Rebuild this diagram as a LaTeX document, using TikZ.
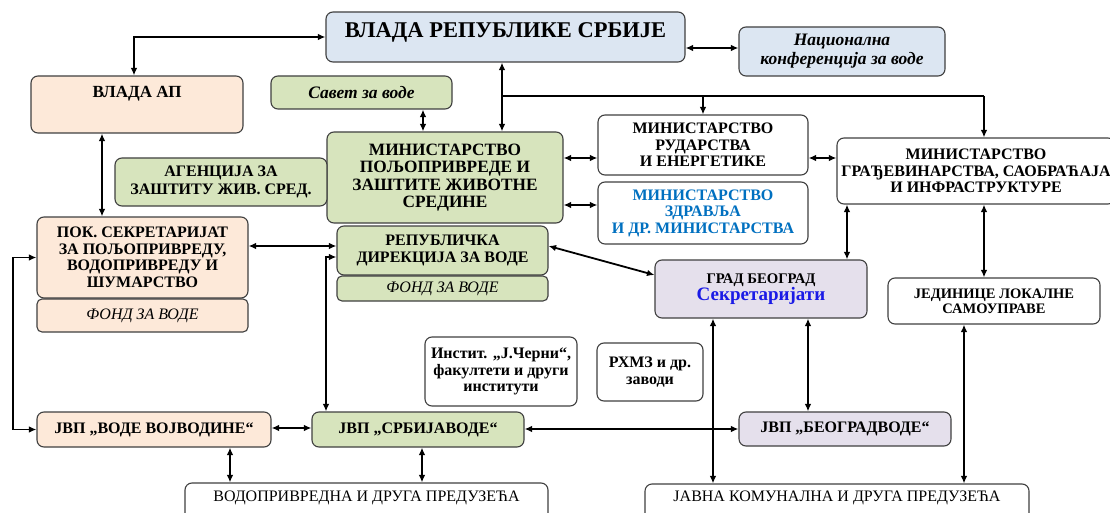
\documentclass[tikz,border=0pt]{standalone}
\usepackage{fontspec}
\setmainfont{Liberation Serif}
\usetikzlibrary{arrows.meta}
\definecolor{blu}{HTML}{DCE6F2}
\definecolor{pch}{HTML}{FDE9D9}
\definecolor{grn}{HTML}{D7E4BD}
\definecolor{lav}{HTML}{E5E0EC}
\definecolor{bord}{HTML}{404040}
\definecolor{tblue}{HTML}{0070C0}
\definecolor{sblue}{HTML}{1A1AE6}
\begin{document}
\begin{tikzpicture}[x=1pt,y=-1pt,
  box/.style={draw=bord, line width=1.1pt, rounded corners=7pt, inner sep=0pt, align=center},
  txt/.style={inner sep=0pt, align=center},
  dbl/.style={line width=1.8pt, {Latex[length=7.5pt,width=6.5pt]}-{Latex[length=7.5pt,width=6.5pt]}},
  one/.style={line width=1.8pt, -{Latex[length=7.5pt,width=6.5pt]}},
  plain/.style={line width=1.8pt},
  fb/.style={font=\fontsize{16}{16.5}\selectfont\bfseries},
  fi/.style={font=\fontsize{16}{16.5}\selectfont\itshape},
  fbi/.style={font=\fontsize{17.5}{19}\selectfont\bfseries\itshape},
  fr/.style={font=\fontsize{16}{16.5}\selectfont},
]
\useasboundingbox (0,0) rectangle (1110,513);
\fill[white] (0,0) rectangle (1110,513);

% helper coordinates
\foreach \xx in {13,102,230,326,422,423,502,713,808,847,964,984}{\coordinate (c\xx) at (\xx,0);}
\foreach \yy in {48,96,158,205,246,257,275,428,429}{\coordinate (r\yy) at (0,\yy);}

% boxes
\node[box, fill=blu, minimum width=359pt, minimum height=50pt] (vrs) at (505.5,37) {};
\node[txt, font=\fontsize{22.5}{23}\selectfont\bfseries] (vrs-t) at (505.5,32) {ВЛАДА РЕПУБЛИКЕ СРБИЈЕ};
\node[box, fill=blu, fbi, minimum width=206pt, minimum height=49pt] (nk) at (842,51.5) {Национална\\конференција за воде};
\node[box, fill=pch, minimum width=212pt, minimum height=57pt] (vap) at (137,104.5) {};
\node[txt, font=\fontsize{17}{17}\selectfont\bfseries] (vap-t) at (137,94) {ВЛАДА АП};
\node[box, fill=grn, fbi, minimum width=181pt, minimum height=33pt] (sav) at (361.5,92.5) {Савет за воде};
\node[box, fill=grn, font=\fontsize{17.3}{17.3}\selectfont\bfseries, minimum width=236pt, minimum height=91pt] (mpz) at (445,177.5) {МИНИСТАРСТВО\\ПОЉОПРИВРЕДЕ И\\ЗАШТИТЕ ЖИВОТНЕ\\СРЕДИНЕ};
\node[box, fill=grn, font=\fontsize{16}{18}\selectfont\bfseries, minimum width=212pt, minimum height=48pt] (ag) at (221,182) {АГЕНЦИЈА ЗА\\ЗАШТИТУ ЖИВ. СРЕД.};
\node[box, fill=white, fb, minimum width=210pt, minimum height=60pt] (mre) at (703,145) {МИНИСТАРСТВО\\РУДАРСТВА\\И ЕНЕРГЕТИКЕ};
\node[box, fill=white, fb, text=tblue, minimum width=210pt, minimum height=62pt] (mzd) at (703,213) {МИНИСТАРСТВО\\ЗДРАВЉА\\И ДР. МИНИСТАРСТВА};
\node[box, fill=white, fb, minimum width=278pt, minimum height=66pt] (mgs) at (976,171) {МИНИСТАРСТВО\\ГРАЂЕВИНАРСТВА, САОБРАЋАЈА\\И ИНФРАСТРУКТУРЕ};
\node[box, fill=grn, fb, minimum width=211pt, minimum height=49pt] (rdv) at (442.5,250.5) {РЕПУБЛИЧКА\\ДИРЕКЦИЈА ЗА ВОДЕ};
\node[box, fill=grn, fi, rounded corners=5pt, minimum width=211pt, minimum height=25pt] (fg) at (442.5,288.5) {ФОНД ЗА ВОДЕ};
\node[box, fill=pch, fb, minimum width=211pt, minimum height=81pt] (pok) at (142.5,257.5) {ПОК. СЕКРЕТАРИЈАТ\\ЗА ПОЉОПРИВРЕДУ,\\ВОДОПРИВРЕДУ И\\ШУМАРСТВО};
\node[box, fill=pch, fi, rounded corners=5pt, minimum width=211pt, minimum height=33pt] (fp) at (142.5,315.5) {ФОНД ЗА ВОДЕ};
\node[box, fill=lav, minimum width=212pt, minimum height=58pt] (gb) at (761,289) {{\fontsize{14.7}{16}\selectfont\bfseries ГРАД БЕОГРАД}\\[0pt]{\fontsize{19}{19}\selectfont\bfseries\color{sblue}Секретаријати}};
\node[box, fill=white, font=\fontsize{14.5}{15}\selectfont\bfseries, minimum width=212pt, minimum height=46pt] (jls) at (994,301) {ЈЕДИНИЦЕ ЛОКАЛНЕ\\САМОУПРАВЕ};
\node[box, fill=white, fb, minimum width=152pt, minimum height=69pt] (inst) at (501,371.5) {Инстит. „Ј.Черни“,\\факултети и други\\институти};
\node[box, fill=white, fb, minimum width=106pt, minimum height=58pt] (rhmz) at (650,372) {РХМЗ и др.\\заводи};
\node[box, fill=pch, fb, minimum width=234pt, minimum height=35pt] (jvv) at (154,429.5) {ЈВП „ВОДЕ ВОЈВОДИНЕ“};
\node[box, fill=grn, fb, minimum width=212pt, minimum height=35pt] (jsv) at (418,429.5) {ЈВП „СРБИЈАВОДЕ“};
\node[box, fill=lav, fb, minimum width=212pt, minimum height=34pt] (jbv) at (845,429) {ЈВП „БЕОГРАДВОДЕ“};
\node[box, fill=white, minimum width=363pt, minimum height=47pt] (vdp) at (366.5,506.5) {};
\node[txt, fr] (vdp-t) at (366.5,498) {ВОДОПРИВРЕДНА И ДРУГА ПРЕДУЗЕЋА};
\node[box, fill=white, minimum width=384pt, minimum height=46pt] (jkp) at (837,507) {};
\node[txt, fr] (jkp-t) at (837,498) {ЈАВНА КОМУНАЛНА И ДРУГА ПРЕДУЗЕЋА};

% connectors
\draw[dbl] ([xshift=-3pt]vap.north) |- (vrs.west);
\draw[dbl] (vrs.east |- r48) -- (nk.west |- r48);
\draw[dbl] (vrs.south -| c502) -- (mpz.north -| c502);
\draw[plain] (c502 |- r96) -- (c984 |- r96);
\draw[one] (mre.north |- r96) -- (mre.north);
\draw[one] (c984 |- r96) -- (mgs.north -| c984);
\draw[dbl] (sav.south -| c423) -- (mpz.north -| c423);
\draw[dbl] (mpz.east |- r158) -- (mre.west |- r158);
\draw[dbl] (mpz.east |- r205) -- (mzd.west |- r205);
\draw[dbl] (mre.east |- r158) -- (mgs.west |- r158);
\draw[dbl] (vap.south -| c102) -- (pok.north -| c102);
\draw[dbl] (pok.east |- r246) -- (rdv.west |- r246);
\draw[dbl] (pok.west) -- (c13 |- pok.west) |- (jvv.west);
\draw[dbl] (rdv.west |- r257) -| (jsv.north -| c326);
\draw[dbl] (mgs.south -| c847) -- (gb.north -| c847);
\draw[dbl] (mgs.south -| c984) -- (jls.north -| c984);
\draw[dbl] (rdv.east |- r246) -- (gb.west |- r275);
\draw[dbl] (gb.south -| c713) -- (jkp.north -| c713);
\draw[dbl] (gb.south -| c808) -- (jbv.north -| c808);
\draw[dbl] (jls.south -| c964) -- (jkp.north -| c964);
\draw[dbl] (jvv.east |- r428) -- (jsv.west |- r428);
\draw[dbl] (jsv.east |- r429) -- (jbv.west |- r429);
\draw[dbl] (jvv.south -| c230) -- (vdp.north -| c230);
\draw[dbl] (jsv.south -| c422) -- (vdp.north -| c422);
\end{tikzpicture}
\end{document}
